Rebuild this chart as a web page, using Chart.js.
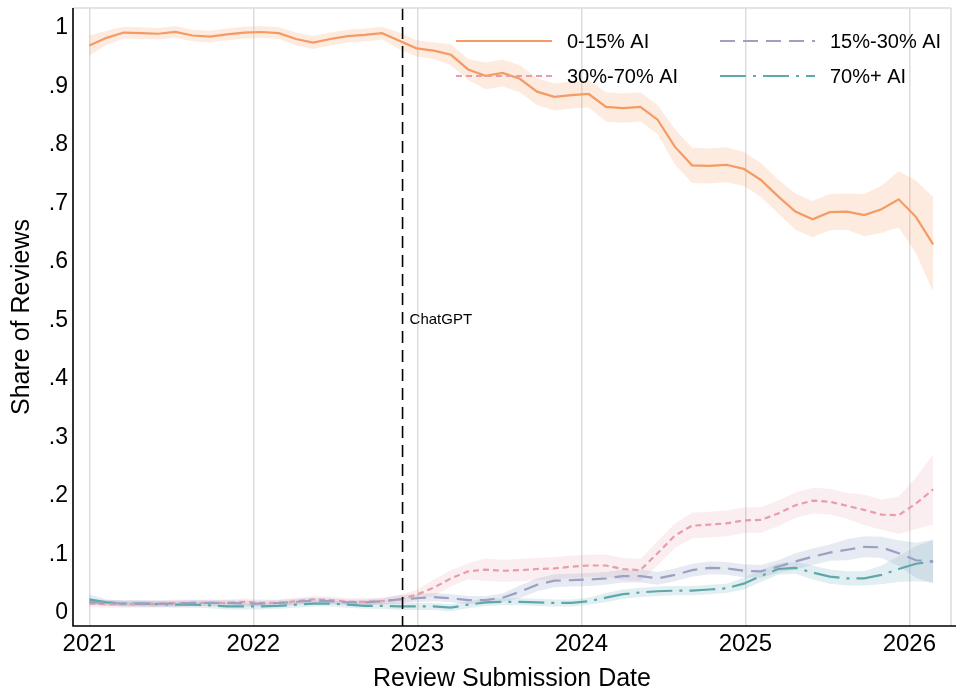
<!DOCTYPE html>
<html>
<head>
<meta charset="utf-8">
<script src="https://cdn.jsdelivr.net/npm/chart.js@4/dist/chart.umd.min.js"></script>
<style>
  html, body { margin: 0; padding: 0; background: #ffffff; }
  #wrap { width: 956px; height: 692px; }
</style>
</head>
<body>
<div id="wrap"><canvas id="chart" width="956" height="692"></canvas></div>
<script>
// Review submission dates (decimal years), one per time bin
const submissionDates = [
  2021.000, 2021.105, 2021.210, 2021.315, 2021.420, 2021.525, 2021.630, 2021.735, 2021.840, 2021.945,
  2022.050, 2022.155, 2022.260, 2022.365, 2022.470, 2022.575, 2022.680, 2022.785, 2022.890, 2022.995,
  2023.100, 2023.205, 2023.310, 2023.415, 2023.520, 2023.625, 2023.730, 2023.835, 2023.940, 2024.045,
  2024.150, 2024.255, 2024.360, 2024.465, 2024.570, 2024.675, 2024.780, 2024.885, 2024.990, 2025.095,
  2025.200, 2025.305, 2025.410, 2025.515, 2025.620, 2025.725, 2025.830, 2025.935, 2026.040, 2026.145
];

// Share of reviews in each AI-content bucket
const share0to15 = [
  0.965, 0.978, 0.987, 0.986, 0.985, 0.988, 0.982, 0.980, 0.984, 0.987,
  0.988, 0.986, 0.976, 0.970, 0.976, 0.981, 0.983, 0.986, 0.973, 0.960,
  0.956, 0.949, 0.924, 0.913, 0.918, 0.908, 0.886, 0.877, 0.880, 0.882,
  0.860, 0.858, 0.860, 0.838, 0.792, 0.760, 0.759, 0.761, 0.754, 0.735,
  0.707, 0.681, 0.668, 0.680, 0.681, 0.675, 0.685, 0.702, 0.672, 0.625
];
const share15to30 = [
  0.014, 0.012, 0.011, 0.011, 0.011, 0.011, 0.012, 0.012, 0.012, 0.011,
  0.011, 0.012, 0.014, 0.016, 0.015, 0.013, 0.013, 0.015, 0.018, 0.020,
  0.022, 0.020, 0.017, 0.017, 0.021, 0.031, 0.043, 0.050, 0.051, 0.052,
  0.054, 0.058, 0.058, 0.054, 0.060, 0.068, 0.072, 0.071, 0.067, 0.066,
  0.074, 0.083, 0.091, 0.098, 0.103, 0.108, 0.107, 0.097, 0.085, 0.083
];
const share30to70 = [
  0.011, 0.010, 0.010, 0.010, 0.010, 0.012, 0.012, 0.012, 0.012, 0.014,
  0.012, 0.012, 0.015, 0.018, 0.017, 0.014, 0.014, 0.015, 0.018, 0.026,
  0.038, 0.054, 0.066, 0.069, 0.067, 0.068, 0.070, 0.071, 0.074, 0.076,
  0.076, 0.070, 0.068, 0.097, 0.127, 0.144, 0.146, 0.148, 0.153, 0.154,
  0.165, 0.179, 0.187, 0.185, 0.178, 0.171, 0.163, 0.162, 0.182, 0.206
];
const share70plus = [
  0.018, 0.013, 0.011, 0.011, 0.010, 0.009, 0.009, 0.008, 0.006, 0.006,
  0.006, 0.007, 0.009, 0.011, 0.011, 0.009, 0.007, 0.007, 0.006, 0.006,
  0.006, 0.004, 0.009, 0.013, 0.014, 0.014, 0.013, 0.012, 0.012, 0.015,
  0.021, 0.027, 0.030, 0.032, 0.033, 0.033, 0.035, 0.037, 0.045, 0.058,
  0.070, 0.072, 0.064, 0.057, 0.054, 0.054, 0.060, 0.070, 0.079, 0.083
];

// Half-widths of the confidence bands around each share
const ci0to15 = [
  0.017, 0.012, 0.010, 0.010, 0.010, 0.010, 0.010, 0.010, 0.010, 0.010,
  0.010, 0.010, 0.011, 0.011, 0.011, 0.011, 0.011, 0.011, 0.014, 0.014,
  0.014, 0.018, 0.018, 0.023, 0.023, 0.023, 0.023, 0.023, 0.023, 0.023,
  0.025, 0.025, 0.025, 0.025, 0.030, 0.030, 0.030, 0.030, 0.029, 0.029,
  0.029, 0.031, 0.031, 0.031, 0.031, 0.036, 0.040, 0.048, 0.062, 0.081
];
const ci15to30 = [
  0.005, 0.005, 0.005, 0.005, 0.005, 0.005, 0.005, 0.005, 0.005, 0.005,
  0.005, 0.005, 0.005, 0.005, 0.005, 0.005, 0.005, 0.005, 0.007, 0.007,
  0.007, 0.007, 0.007, 0.007, 0.007, 0.011, 0.011, 0.011, 0.011, 0.011,
  0.011, 0.011, 0.011, 0.011, 0.011, 0.011, 0.011, 0.011, 0.011, 0.011,
  0.011, 0.014, 0.014, 0.014, 0.018, 0.018, 0.018, 0.022, 0.030, 0.037
];
const ci30to70 = [
  0.006, 0.006, 0.006, 0.006, 0.006, 0.006, 0.006, 0.006, 0.006, 0.006,
  0.006, 0.006, 0.006, 0.006, 0.006, 0.006, 0.006, 0.006, 0.008, 0.008,
  0.014, 0.014, 0.014, 0.019, 0.019, 0.019, 0.019, 0.019, 0.019, 0.019,
  0.019, 0.019, 0.019, 0.021, 0.021, 0.022, 0.022, 0.022, 0.022, 0.022,
  0.022, 0.022, 0.022, 0.022, 0.022, 0.026, 0.026, 0.032, 0.044, 0.060
];
const ci70plus = [
  0.009, 0.005, 0.005, 0.005, 0.005, 0.005, 0.005, 0.005, 0.005, 0.005,
  0.005, 0.005, 0.005, 0.005, 0.005, 0.005, 0.005, 0.005, 0.006, 0.006,
  0.006, 0.006, 0.006, 0.006, 0.006, 0.006, 0.006, 0.006, 0.006, 0.006,
  0.008, 0.008, 0.008, 0.008, 0.008, 0.008, 0.008, 0.008, 0.010, 0.010,
  0.010, 0.010, 0.012, 0.012, 0.012, 0.012, 0.016, 0.022, 0.030, 0.036
];

const yearTicks = [2021, 2022, 2023, 2024, 2025, 2026];
const shareTicks = [0, 0.1, 0.2, 0.3, 0.4, 0.5, 0.6, 0.7, 0.8, 0.9, 1];
const chatgptRelease = 2022.91;

const FONT = "'Liberation Sans', Arial, Helvetica, sans-serif";

const series = [
  { label: '0-15% AI',   values: share0to15,  ci: ci0to15,  color: '#F49B64', band: 'rgba(246,165,112,0.22)', dash: [] },
  { label: '15%-30% AI', values: share15to30, ci: ci15to30, color: '#9D9FC3', band: 'rgba(140,160,195,0.22)', dash: [15, 8] },
  { label: '30%-70% AI', values: share30to70, ci: ci30to70, color: '#E79DAA', band: 'rgba(226,140,156,0.15)', dash: [6, 4] },
  { label: '70%+ AI',    values: share70plus, ci: ci70plus, color: '#5FA8AA', band: 'rgba(110,175,190,0.20)', dash: [26, 7, 3, 7] }
];

const toPoints = arr => submissionDates.map((d, i) => ({ x: d, y: arr[i] }));

const datasets = [];
series.forEach(s => {
  datasets.push({
    label: s.label + ' upper', isBand: true,
    data: toPoints(s.values.map((v, i) => v + s.ci[i])),
    borderWidth: 0, pointRadius: 0, fill: '+1', backgroundColor: s.band, order: 5
  });
  datasets.push({
    label: s.label + ' lower', isBand: true,
    data: toPoints(s.values.map((v, i) => v - s.ci[i])),
    borderWidth: 0, pointRadius: 0, fill: false, order: 5
  });
});
series.forEach(s => {
  datasets.push({
    label: s.label, isBand: false,
    data: toPoints(s.values),
    borderColor: s.color, borderWidth: 2.2, borderDash: s.dash,
    borderCapStyle: 'butt', pointRadius: 0, fill: false, tension: 0, order: 1
  });
});

// Light frame on top/right, black axes on left/bottom
const framePlugin = {
  id: 'frame',
  afterDraw(chart) {
    const { ctx, chartArea: a } = chart;
    ctx.save();
    ctx.strokeStyle = '#dcdcdc';
    ctx.lineWidth = 1.5;
    ctx.beginPath();
    ctx.moveTo(a.left, a.top); ctx.lineTo(a.right, a.top);
    ctx.moveTo(a.right, a.top); ctx.lineTo(a.right, a.bottom);
    ctx.stroke();
    ctx.strokeStyle = '#000000';
    ctx.lineWidth = 1.6;
    ctx.beginPath();
    ctx.moveTo(a.left, a.top); ctx.lineTo(a.left, a.bottom + 0.8);
    ctx.moveTo(a.left - 0.8, a.bottom); ctx.lineTo(chart.width, a.bottom);
    ctx.stroke();
    ctx.restore();
  }
};

// Vertical marker at the ChatGPT release
const releasePlugin = {
  id: 'release',
  afterDatasetsDraw(chart) {
    const { ctx, chartArea: a, scales } = chart;
    const x = scales.x.getPixelForValue(chatgptRelease);
    ctx.save();
    ctx.strokeStyle = '#000000';
    ctx.lineWidth = 1.6;
    ctx.setLineDash([12, 7]);
    ctx.beginPath();
    ctx.moveTo(x, a.top); ctx.lineTo(x, a.bottom);
    ctx.stroke();
    ctx.setLineDash([]);
    ctx.fillStyle = '#000000';
    ctx.font = '15px ' + FONT;
    ctx.textAlign = 'left';
    ctx.textBaseline = 'middle';
    ctx.fillText('ChatGPT', x + 7, scales.y.getPixelForValue(0.5) + 2);
    ctx.restore();
  }
};

// Two-column legend inside the plot area
const legendPlugin = {
  id: 'twoColLegend',
  afterDatasetsDraw(chart) {
    const { ctx } = chart;
    const lines = chart.data.datasets.filter(d => !d.isBand);
    const cols = [{ x0: 456, x1: 552, tx: 567 }, { x0: 720, x1: 815, tx: 830 }];
    const rows = [41, 76];
    ctx.save();
    ctx.font = '20px ' + FONT;
    ctx.textAlign = 'left';
    ctx.textBaseline = 'middle';
    lines.forEach((d, i) => {
      const c = cols[i % 2], y = rows[Math.floor(i / 2)];
      ctx.strokeStyle = d.borderColor;
      ctx.lineWidth = 2.2;
      ctx.setLineDash(d.borderDash);
      ctx.beginPath();
      ctx.moveTo(c.x0, y); ctx.lineTo(c.x1, y);
      ctx.stroke();
      ctx.setLineDash([]);
      ctx.fillStyle = '#000000';
      ctx.fillText(d.label, c.tx, y + 1);
    });
    ctx.restore();
  }
};

new Chart(document.getElementById('chart'), {
  type: 'line',
  data: { datasets },
  options: {
    responsive: false,
    animation: false,
    devicePixelRatio: 1,
    layout: { padding: { top: 8, right: 5, left: 0, bottom: 0 } },
    plugins: { legend: { display: false }, tooltip: { enabled: false } },
    scales: {
      x: {
        type: 'linear',
        min: 2020.9006,
        max: 2026.254,
        afterBuildTicks: s => { s.ticks = yearTicks.map(v => ({ value: v })); },
        afterFit: s => { s.height = 66; s.paddingLeft = 0; s.paddingRight = 0; },
        ticks: {
          callback: v => String(v),
          font: { family: FONT, size: 24 },
          color: '#000000',
          padding: 4,
          maxRotation: 0,
          autoSkip: false
        },
        grid: { color: '#dcdcdc', lineWidth: 1.5, drawTicks: false },
        border: { display: false },
        title: {
          display: true,
          text: 'Review Submission Date',
          font: { family: FONT, size: 25 },
          color: '#000000',
          padding: { top: 0, bottom: -2 }
        }
      },
      y: {
        type: 'linear',
        min: -0.0274,
        max: 1.029,
        afterBuildTicks: s => { s.ticks = shareTicks.map(v => ({ value: v })); },
        afterFit: s => { s.width = 73; s.paddingTop = 0; s.paddingBottom = 0; },
        ticks: {
          callback: v => (v === 0 ? '0' : v === 1 ? '1' : v.toFixed(1).replace(/^0/, '')),
          font: { family: FONT, size: 23 },
          color: '#000000',
          padding: 5,
          labelOffset: 3
        },
        grid: { display: false, drawTicks: false },
        border: { display: false },
        title: {
          display: true,
          text: 'Share of Reviews',
          font: { family: FONT, size: 25 },
          color: '#000000',
          padding: { top: 7, bottom: 0 }
        }
      }
    }
  },
  plugins: [framePlugin, releasePlugin, legendPlugin]
});
</script>
</body>
</html>
